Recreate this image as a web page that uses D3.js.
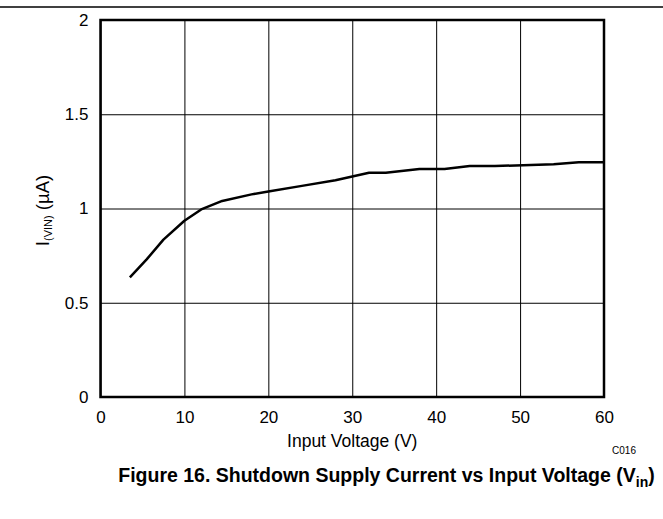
<!DOCTYPE html>
<html>
<head>
<meta charset="utf-8">
<script src="https://cdn.jsdelivr.net/npm/d3@7"></script>
<style>
  body { margin: 0; background: #fff; }
  text { font-family: "Liberation Sans", Arial, sans-serif; fill: #000; }
</style>
</head>
<body>
<div id="graph"></div>
<script>
// input voltage (V)
const vin = [3.5, 5.5, 7.5, 10, 12, 14.5, 18, 20, 24, 28, 32, 34, 38, 41, 44, 47, 54, 57, 60];
// shutdown supply current (uA)
const ivin = [0.635, 0.73, 0.835, 0.935, 0.995, 1.04, 1.075, 1.09, 1.12, 1.15, 1.19, 1.19, 1.21, 1.21, 1.225, 1.225, 1.235, 1.245, 1.245];

const xTicks = [0, 10, 20, 30, 40, 50, 60];
const yTicks = [0, 0.5, 1, 1.5, 2];

graph = () => {
  const W = 663, H = 519;
  const margin = { top: 20, right: 59, bottom: 122, left: 100.5 };

  const svg = d3
    .select("#graph")
    .append("svg")
    .attr("width", W)
    .attr("height", H);

  // rule across the top of the page
  svg
    .append("line")
    .attr("x1", 0)
    .attr("x2", W)
    .attr("y1", 7)
    .attr("y2", 7)
    .attr("stroke", "#000")
    .attr("stroke-width", 1.5);

  const x = d3
    .scaleLinear()
    .domain([0, 60])
    .range([margin.left, W - margin.right]);
  const y = d3
    .scaleLinear()
    .domain([0, 2])
    .range([H - margin.bottom, margin.top]);

  // grid
  svg
    .append("g")
    .attr("transform", "translate(0," + y(0) + ")")
    .call(d3.axisBottom(x).tickValues(xTicks).tickSize(-(y(0) - y(2))).tickFormat(""))
    .call(g => g.select(".domain").remove())
    .call(g => g.selectAll(".tick line").attr("stroke", "#000").attr("stroke-width", 1));
  svg
    .append("g")
    .attr("transform", "translate(" + x(0) + ",0)")
    .call(d3.axisLeft(y).tickValues(yTicks).tickSize(-(x(60) - x(0))).tickFormat(""))
    .call(g => g.select(".domain").remove())
    .call(g => g.selectAll(".tick line").attr("stroke", "#000").attr("stroke-width", 1));

  // tick labels
  svg
    .append("g")
    .attr("transform", "translate(0," + y(0) + ")")
    .call(d3.axisBottom(x).tickValues(xTicks).tickSize(0).tickPadding(14))
    .call(g => g.select(".domain").remove())
    .call(g => g.selectAll(".tick text").style("font-size", "17px").style("font-family", "Liberation Sans, Arial, sans-serif"));
  svg
    .append("g")
    .attr("transform", "translate(" + x(0) + ",0)")
    .call(d3.axisLeft(y).tickValues(yTicks).tickSize(0).tickPadding(12).tickFormat(d3.format("")))
    .call(g => g.select(".domain").remove())
    .call(g => g.selectAll(".tick text").style("font-size", "17px").style("font-family", "Liberation Sans, Arial, sans-serif"));

  // curve
  const pts = vin.map((v, i) => ({ v: v, i: ivin[i] }));
  svg
    .append("path")
    .datum(pts)
    .attr("fill", "none")
    .attr("stroke", "#000")
    .attr("stroke-width", 2.5)
    .attr("stroke-linejoin", "round")
    .attr("d", d3.line().x(d => x(d.v)).y(d => y(d.i)));

  // frame
  svg
    .append("rect")
    .attr("x", x(0))
    .attr("y", y(2))
    .attr("width", x(60) - x(0))
    .attr("height", y(0) - y(2))
    .attr("fill", "none")
    .attr("stroke", "#000")
    .attr("stroke-width", 2.5);

  // axis titles
  svg
    .append("text")
    .attr("x", (x(0) + x(60)) / 2)
    .attr("y", 447)
    .attr("text-anchor", "middle")
    .style("font-size", "17.5px")
    .text("Input Voltage (V)");

  const yl = svg
    .append("text")
    .attr("transform", "translate(49," + (y(1) + 2) + ") rotate(-90)")
    .attr("text-anchor", "middle")
    .style("font-size", "18.5px");
  yl.append("tspan").text("I");
  yl.append("tspan").attr("dy", 3).style("font-size", "11px").text("(VIN)");
  yl.append("tspan").attr("dy", -3).text(" (µA)");

  svg
    .append("text")
    .attr("x", 624)
    .attr("y", 454)
    .attr("text-anchor", "middle")
    .style("font-size", "10px")
    .text("C016");

  const title = svg
    .append("text")
    .attr("x", 386.5)
    .attr("y", 482)
    .attr("text-anchor", "middle")
    .style("font-size", "19.5px")
    .style("font-weight", "bold");
  title.append("tspan").text("Figure 16. Shutdown Supply Current vs Input Voltage (V");
  title.append("tspan").attr("dy", 5).style("font-size", "14px").text("in");
  title.append("tspan").attr("dy", -5).text(")");
};

window.addEventListener("DOMContentLoaded", evt => {
  graph();
});
</script>
</body>
</html>
